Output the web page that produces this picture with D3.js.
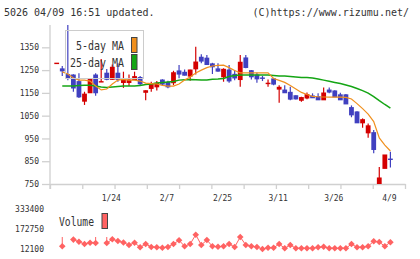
<!DOCTYPE html>
<html><head><meta charset="utf-8">
<script src="https://cdn.jsdelivr.net/npm/d3@7"></script>
<style>
body{margin:0;background:#fff}
svg{display:block}
text{font-family:"DejaVu Sans Mono",monospace;fill:#333}
</style></head>
<body><svg id="c" width="420" height="259"></svg>
<script>
// OHLC per trading day, oldest first
const open =[1279,1255,1230,1228,1199,1114,1151,1228,1198,1236,1210,1236,1196,1196,1209,1217,1153,1170,1177,1206,1195,1195,1246,1240,1224,1256,1306,1302,1277,1255,1221,1250,1231,1209,1303,1247,1228,1215,1191,1211,1167,1162,1152,1137,1118,1128,1136,1133,1120,1162,1158,1141,1141,1085,1066,1019,975,975,748,819,859];
const high =[1280,1268,1460,1232,1236,1155,1214,1236,1299,1255,1275,1280,1243,1231,1243,1224,1162,1199,1202,1210,1203,1247,1272,1253,1252,1353,1320,1316,1282,1280,1258,1272,1250,1316,1316,1250,1238,1224,1209,1214,1184,1184,1177,1140,1133,1152,1148,1148,1174,1174,1162,1151,1145,1095,1069,1038,1016,987,825,877,892];
const low  =[1279,1224,1206,1155,1128,1097,1150,1137,1198,1205,1208,1199,1172,1180,1206,1180,1118,1155,1160,1184,1170,1184,1214,1226,1203,1231,1280,1272,1233,1243,1199,1195,1206,1177,1258,1209,1195,1202,1177,1184,1107,1150,1118,1121,1111,1122,1128,1121,1120,1148,1133,1120,1102,1043,1019,997,953,885,740,819,822];
const close=[1280,1247,1218,1172,1133,1144,1211,1151,1199,1210,1262,1210,1206,1206,1221,1190,1159,1188,1192,1189,1177,1238,1233,1228,1250,1285,1290,1275,1265,1246,1253,1203,1216,1284,1262,1221,1212,1214,1192,1189,1174,1151,1123,1124,1129,1142,1129,1120,1149,1154,1133,1120,1102,1054,1019,1032,1005,902,776,877,858];
const ma5  =[null,1242,1233,1215,1206,1206,1202,1180,1163,1167,1189,1206,1209,1206,1206,1202,1193,1191,1189,1183,1180,1180,1189,1206,1220,1237,1250,1261,1268,1271,1272,1261,1248,1238,1238,1238,1238,1238,1238,1213,1205,1196,1182,1167,1152,1143,1135,1133,1132,1131,1131,1131,1130,1123,1103,1081,1057,1024,952,921,895];
const ma25 =[null,1180,1180,1180,1182,1183,1183,1180,1176,1174,1176,1178,1180,1180,1180,1182,1187,1189,1193,1196,1198,1200,1206,1208,1209,1208,1207,1207,1210,1211,1213,1222,1226,1228,1228,1228,1228,1228,1228,1226,1224,1224,1222,1220,1218,1217,1215,1211,1206,1201,1196,1191,1185,1178,1169,1160,1149,1134,1116,1099,1083];
const volume=[null,33800,null,87600,69900,52300,62700,60300,null,60300,90000,76400,64300,44200,62700,25800,52300,28200,25800,21700,28200,52300,82000,33800,52300,127000,44200,84400,33800,30600,33800,52300,28200,108500,44200,33800,28200,12100,21700,21700,52300,17700,44200,17700,17700,17700,17700,25800,30600,17700,17700,17700,17700,52300,25800,25800,33800,74800,68300,33800,66700];
const priceTicks=[750,850,950,1050,1150,1250,1350];
const volTicks=[12100,172750,333400];
const dateIdx=[10,20,30,40,50,60];
const dateLabels=['1/24','2/7','2/25','3/11','3/26','4/9'];

const UP='#d40000',DN='#4040c0',C5='#f0901e',C25='#14a514',VC='#ff6262',AX='#d0d0d0';
const svg=d3.select('#c');
const P={l:50,r:405,t:25,b:184};
const x=d3.scaleLinear().domain([0,open.length-1]).range([56.7,390.4]);
const y=d3.scaleLinear().domain([750,1448]).range([P.b,P.t]);
const yv=d3.scaleLinear().domain([12100,333400]).range([249,209]);
const grid=d3.scaleLinear().domain([0,11]).range([P.l,P.r]);

svg.append('text').attr('x',4).attr('y',16).attr('font-size',10).text('5026 04/09 16:51 updated.');
svg.append('text').attr('x',409).attr('y',16).attr('font-size',10).attr('text-anchor','end').text('(C)https://www.rizumu.net/');

// axes
const ya=svg.append('g').attr('transform',`translate(${P.l},0)`)
  .call(d3.axisLeft(y).tickValues(priceTicks).tickFormat(d3.format('d')).tickSize(8).tickSizeOuter(0).tickPadding(3));
const xa=svg.append('g').attr('transform',`translate(0,${P.b})`)
  .call(d3.axisBottom(grid).tickValues(d3.range(12)).tickFormat('').tickSize(5).tickSizeOuter(0));
[ya,xa].forEach(g=>{g.selectAll('path,line').attr('stroke',AX).attr('stroke-width',1.3);
  g.selectAll('text').attr('font-size',8).attr('fill','#333').attr('font-family','DejaVu Sans Mono')});
ya.select('.domain').attr('d',`M0,${P.t}V${P.b+5}`);

svg.append('g').selectAll('text').data(dateIdx).join('text')
  .attr('x',d=>x(d)-1).attr('y',201).attr('font-size',8).attr('text-anchor','middle')
  .text((d,i)=>dateLabels[i]);
svg.append('g').selectAll('text').data(volTicks).join('text')
  .attr('x',44).attr('y',d=>yv(d)+3).attr('font-size',8).attr('text-anchor','end').text(d=>d);

svg.append('clipPath').attr('id','pc').append('rect').attr('x',P.l).attr('y',P.t).attr('width',P.r-P.l).attr('height',P.b-P.t);
const plot=svg.append('g').attr('clip-path','url(#pc)');

// candles
const idx=d3.range(open.length);
plot.append('g').selectAll('line').data(idx).join('line')
  .attr('x1',i=>x(i)).attr('x2',i=>x(i)).attr('y1',i=>y(high[i])).attr('y2',i=>y(low[i]))
  .attr('stroke',i=>close[i]>=open[i]?UP:DN).attr('stroke-width',1.2);
plot.append('g').selectAll('rect').data(idx).join('rect')
  .attr('x',i=>x(i)-2.4).attr('width',4.8)
  .attr('y',i=>y(Math.max(open[i],close[i]))-0.6)
  .attr('height',i=>Math.abs(y(open[i])-y(close[i]))+1.2)
  .attr('fill',i=>close[i]>=open[i]?UP:DN);

// moving averages
const ln=a=>d3.line().defined(i=>a[i]!=null).x(i=>x(i)).y(i=>y(a[i]));
plot.append('path').attr('d',ln(ma25)(idx)).attr('fill','none').attr('stroke',C25).attr('stroke-width',1.5);
plot.append('path').attr('d',ln(ma5)(idx)).attr('fill','none').attr('stroke',C5).attr('stroke-width',1.2);

// MA legend
const lg=svg.append('g');
lg.append('rect').attr('x',65.5).attr('y',30.5).attr('width',78).attr('height',48).attr('fill','none').attr('stroke','#ccc');
[['5-day MA',C5,50,48],['25-day MA',C25,67,54]].forEach(([t,c,by,w],k)=>{
  lg.append('text').attr('x',124).attr('y',by).attr('font-size',11.5).attr('text-anchor','end')
    .attr('textLength',w).attr('lengthAdjust','spacingAndGlyphs').text(t);
  lg.append('rect').attr('x',131.5).attr('y',37.5+k*17).attr('width',5.5).attr('height',15).attr('fill',c).attr('stroke','#444');
});

// volume
const vg=svg.append('g');
vg.append('text').attr('x',59).attr('y',226).attr('font-size',11.5).attr('textLength',35).attr('lengthAdjust','spacingAndGlyphs').text('Volume');
vg.append('rect').attr('x',102).attr('y',213.5).attr('width',5.5).attr('height',15).attr('fill',VC).attr('stroke','#444');
vg.append('path').attr('d',d3.line().defined(i=>volume[i]!=null).x(i=>x(i)).y(i=>yv(volume[i]))(idx))
  .attr('fill','none').attr('stroke',VC).attr('stroke-width',1);
const gapTop=237;
const nearGap=idx.filter(i=>volume[i]!=null&&(volume[i-1]===null||volume[i+1]===null));
vg.append('g').selectAll('line').data(nearGap).join('line')
  .attr('x1',i=>x(i)).attr('x2',i=>x(i)).attr('y1',gapTop).attr('y2',i=>yv(volume[i]))
  .attr('stroke',VC).attr('stroke-width',1);
vg.append('g').selectAll('path').data(idx.filter(i=>volume[i]!=null)).join('path')
  .attr('transform',i=>`translate(${x(i)},${yv(volume[i])})`)
  .attr('d','M0,-3.3L3.3,0L0,3.3L-3.3,0Z').attr('fill',VC);
</script></body></html>
